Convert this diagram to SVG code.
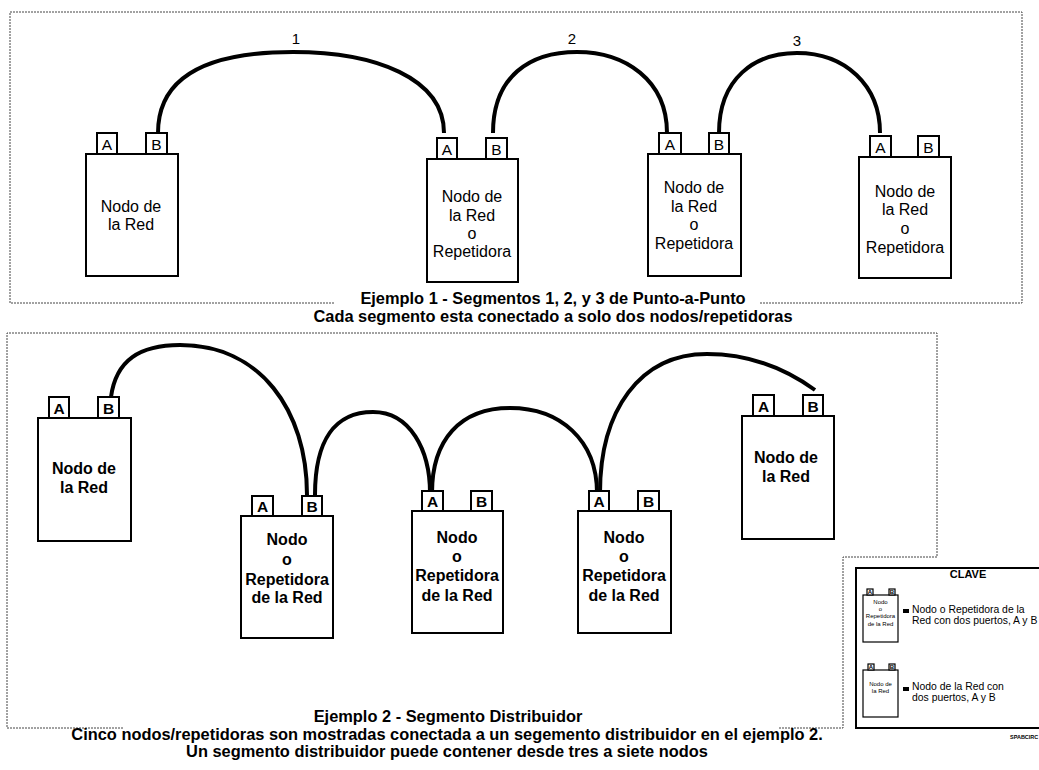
<svg xmlns="http://www.w3.org/2000/svg" width="1039" height="770" viewBox="0 0 1039 770">
<style>
text{font-family:"Liberation Sans",Arial,Helvetica,sans-serif;fill:#000}
.box{fill:#fff;stroke:#000;stroke-width:2}
.port{fill:#fff;stroke:#000;stroke-width:2}
.wire{fill:none;stroke:#000;stroke-width:4}
.frame{fill:none;stroke:#444;stroke-width:1;stroke-dasharray:2 1}
.t1{font-size:16px;text-anchor:middle}
.pl{font-size:15.5px;text-anchor:middle}
.t2{font-size:16px;font-weight:bold;text-anchor:middle}
.pb{font-size:15.5px;font-weight:bold;text-anchor:middle}
.cap{font-size:16.4px;font-weight:bold;text-anchor:middle}
.num{font-size:15px;text-anchor:middle}
.kt{font-size:10.4px}
.ks{font-size:6px;text-anchor:middle}
.kp{font-size:6px;font-weight:bold;text-anchor:middle}
</style>
<rect width="1039" height="770" fill="#fff"/>
<g id="frames">
<path class="frame" d="M334,303 H10 V12 H1022 V303 H760"/>
<path class="frame" d="M123,728 H7 V333 H937 V557 H843 V728 H778"/>
</g>
<g id="connectors">
<path class="wire" d="M158,133 C158,72 215,52 293,52 C375,52 444,78 444,133"/>
<path class="wire" d="M493,133 C493,76 530,52 577,52 C625,52 667,80 667,133"/>
<path class="wire" d="M719,133 C719,78 755,53 797,53 C845,53 880,85 880,133"/>
<path class="wire" d="M111,397 C116,360 140,345 180,345 C260,345 307,410 307,495"/>
<path class="wire" d="M315,495 C315,440 335,412 373,412 C410,412 430,450 430,493"/>
<path class="wire" d="M432,493 C432,440 460,408 510,408 C560,408 597,440 597,493"/>
<path class="wire" d="M600,493 C600,410 640,354 707,354 C755,354 790,372 815,390"/>
</g>
<g id="labels">
<text class="num" x="296" y="44">1</text>
<text class="num" x="572" y="44">2</text>
<text class="num" x="797" y="46">3</text>
<text class="cap" x="553" y="304">Ejemplo 1 - Segmentos 1, 2, y 3 de Punto-a-Punto</text>
<text class="cap" x="553" y="322">Cada segmento esta conectado a solo dos nodos/repetidoras</text>
<text class="cap" x="448" y="722">Ejemplo 2 - Segmento Distribuidor</text>
<text class="cap" x="447" y="740">Cinco nodos/repetidoras son mostradas conectada a un segemento distribuidor en el ejemplo 2.</text>
<text class="cap" x="447" y="757">Un segmento distribuidor puede contener desde tres a siete nodos</text>
</g>
<g id="n1">
<rect class="box" x="86" y="154" width="92" height="122"/>
<rect class="port" x="97" y="133" width="20" height="21"/><text class="pl" x="107" y="150">A</text>
<rect class="port" x="146" y="133" width="21" height="21"/><text class="pl" x="156.5" y="150">B</text>
<text class="t1" x="131" y="212">Nodo de</text>
<text class="t1" x="131" y="230">la Red</text>
</g>
<g id="n2">
<rect class="box" x="427" y="159" width="91" height="123"/>
<rect class="port" x="437" y="138" width="20" height="21"/><text class="pl" x="447" y="155">A</text>
<rect class="port" x="486" y="138" width="21" height="21"/><text class="pl" x="496.5" y="155">B</text>
<text class="t1" x="472" y="202">Nodo de</text>
<text class="t1" x="472" y="221">la Red</text>
<text class="t1" x="472" y="239">o</text>
<text class="t1" x="472" y="257">Repetidora</text>
</g>
<g id="n3">
<rect class="box" x="648" y="154" width="93" height="122"/>
<rect class="port" x="659" y="133" width="22" height="21"/><text class="pl" x="670" y="150">A</text>
<rect class="port" x="709" y="133" width="20" height="21"/><text class="pl" x="719" y="150">B</text>
<text class="t1" x="694" y="193">Nodo de</text>
<text class="t1" x="694" y="212">la Red</text>
<text class="t1" x="694" y="230">o</text>
<text class="t1" x="694" y="249">Repetidora</text>
</g>
<g id="n4">
<rect class="box" x="859" y="157" width="92" height="121"/>
<rect class="port" x="870" y="136" width="21" height="21"/><text class="pl" x="880.5" y="153">A</text>
<rect class="port" x="918" y="136" width="21" height="21"/><text class="pl" x="928.5" y="153">B</text>
<text class="t1" x="905" y="197">Nodo de</text>
<text class="t1" x="905" y="215">la Red</text>
<text class="t1" x="905" y="234">o</text>
<text class="t1" x="905" y="253">Repetidora</text>
</g>
<g id="na">
<rect class="box" x="38" y="418" width="93" height="123"/>
<rect class="port" x="49" y="397" width="20" height="21"/><text class="pb" x="59" y="414">A</text>
<rect class="port" x="98" y="397" width="21" height="21"/><text class="pb" x="108.5" y="414">B</text>
<text class="t2" x="84" y="474">Nodo de</text>
<text class="t2" x="84" y="493">la Red</text>
</g>
<g id="nb">
<rect class="box" x="241" y="516" width="92" height="122"/>
<rect class="port" x="252" y="496" width="21" height="20"/><text class="pb" x="262.5" y="512">A</text>
<rect class="port" x="302" y="496" width="20" height="20"/><text class="pb" x="312" y="512">B</text>
<text class="t2" x="287" y="545">Nodo</text>
<text class="t2" x="287" y="565">o</text>
<text class="t2" x="287" y="585">Repetidora</text>
<text class="t2" x="287" y="603">de la Red</text>
</g>
<g id="nc">
<rect class="box" x="412" y="511" width="91" height="122"/>
<rect class="port" x="422" y="491" width="21" height="20"/><text class="pb" x="432.5" y="507">A</text>
<rect class="port" x="471" y="491" width="21" height="20"/><text class="pb" x="481.5" y="507">B</text>
<text class="t2" x="457" y="543">Nodo</text>
<text class="t2" x="457" y="562">o</text>
<text class="t2" x="457" y="581">Repetidora</text>
<text class="t2" x="457" y="601">de la Red</text>
</g>
<g id="nd">
<rect class="box" x="578" y="511" width="93" height="122"/>
<rect class="port" x="589" y="491" width="20" height="20"/><text class="pb" x="599" y="507">A</text>
<rect class="port" x="638" y="491" width="21" height="20"/><text class="pb" x="648.5" y="507">B</text>
<text class="t2" x="624" y="543">Nodo</text>
<text class="t2" x="624" y="562">o</text>
<text class="t2" x="624" y="581">Repetidora</text>
<text class="t2" x="624" y="601">de la Red</text>
</g>
<g id="ne">
<rect class="box" x="742" y="416" width="92" height="123"/>
<rect class="port" x="753" y="395" width="21" height="21"/><text class="pb" x="763.5" y="412">A</text>
<rect class="port" x="803" y="395" width="20" height="21"/><text class="pb" x="813" y="412">B</text>
<text class="t2" x="786" y="463">Nodo de</text>
<text class="t2" x="786" y="482">la Red</text>
</g>
<g id="key">
<rect x="856" y="568" width="190" height="160" fill="#fff" stroke="#000" stroke-width="2"/>
<text x="968" y="578" font-size="11" font-weight="bold" text-anchor="middle">CLAVE</text>
<g id="key-node1">
<rect x="863" y="595" width="35" height="47" fill="#fff" stroke="#000" stroke-width="1.2"/>
<rect x="867" y="589" width="6" height="6" fill="#fff" stroke="#000" stroke-width="1.2"/><text class="kp" x="870" y="594">A</text>
<rect x="889" y="589" width="6" height="6" fill="#fff" stroke="#000" stroke-width="1.2"/><text class="kp" x="892" y="594">B</text>
<text class="ks" x="880.5" y="604">Nodo</text>
<text class="ks" x="880.5" y="611">o</text>
<text class="ks" x="880.5" y="618">Repetidora</text>
<text class="ks" x="880.5" y="626">de la Red</text>
</g>
<rect x="903" y="609" width="6" height="4" fill="#000"/>
<text class="kt" x="912" y="613">Nodo o Repetidora de la</text>
<text class="kt" x="912" y="624">Red con dos puertos, A y B</text>
<g id="key-node2">
<rect x="863" y="670" width="35" height="47" fill="#fff" stroke="#000" stroke-width="1.2"/>
<rect x="868" y="664" width="6" height="6" fill="#fff" stroke="#000" stroke-width="1.2"/><text class="kp" x="871" y="669">A</text>
<rect x="889" y="664" width="6" height="6" fill="#fff" stroke="#000" stroke-width="1.2"/><text class="kp" x="892" y="669">B</text>
<text class="ks" x="880.5" y="686">Nodo de</text>
<text class="ks" x="880.5" y="693">la Red</text>
</g>
<rect x="903" y="687" width="6" height="4" fill="#000"/>
<text class="kt" x="912" y="690">Nodo de la Red con</text>
<text class="kt" x="912" y="701">dos puertos, A y B</text>
<text x="1010" y="739" font-size="5.5" font-weight="bold">SPABCIRC</text>
</g>
</svg>
